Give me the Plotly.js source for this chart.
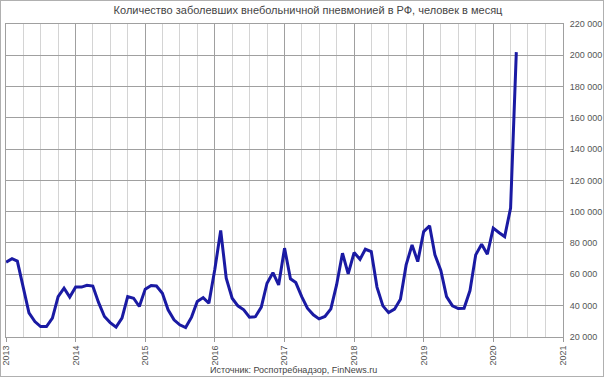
<!DOCTYPE html>
<html>
<head>
<meta charset="utf-8">
<script src="https://cdn.plot.ly/plotly-3.0.1.min.js"></script>
<style>
html,body{margin:0;padding:0;background:#fff;}
#chart{width:602px;height:375px;border:1px solid #b0b0b0;}
</style>
</head>
<body>
<div id="chart"></div>
<script>
// Monthly values (persons per month), Jan..Dec of each year
const v2013 = [67700, 70000, 68400, 51000, 35300, 29800, 26600, 26600, 32000, 45700, 51100, 45400];
const v2014 = [51800, 51800, 53000, 52500, 42000, 33000, 29100, 26200, 32000, 45700, 44700, 39400];
const v2015 = [50500, 52800, 52500, 47900, 37300, 30900, 27700, 25900, 32600, 42600, 45100, 41500];
const v2016 = [63000, 88000, 57500, 44700, 39800, 37300, 32600, 32900, 39000, 54300, 61000, 53200];
const v2017 = [76700, 57100, 54700, 45700, 38300, 34100, 31500, 33000, 37900, 53200, 73500, 60200];
const v2018 = [73900, 69600, 76000, 74500, 51800, 39800, 35500, 37700, 44100, 66000, 78800, 68100];
const v2019 = [87300, 91000, 72400, 62400, 45700, 39800, 38100, 38300, 49600, 72400, 79200, 72800];
const v2020 = [89500, 86600, 84100, 102400, 202000];
const years = [2013, 2014, 2015, 2016, 2017, 2018, 2019, 2020];
const yearValues = [v2013, v2014, v2015, v2016, v2017, v2018, v2019, v2020];
const yearTicks = ['2013','2014','2015','2016','2017','2018','2019','2020','2021'];
const yTicks = [20000, 40000, 60000, 80000, 100000, 120000, 140000, 160000, 180000, 200000, 220000];

const titleText = 'Количество заболевших внебольничной пневмонией в РФ, человек в месяц';
const sourceText = 'Источник: Роспотребнадзор, FinNews.ru';

const x = [], y = [];
years.forEach((yr, i) => {
  yearValues[i].forEach((v, m) => {
    x.push(yr + '-' + String(m + 1).padStart(2, '0') + '-01');
    y.push(v);
  });
});

const font = 'Arial, "Liberation Sans", sans-serif';

const trace = {
  x: x, y: y, type: 'scatter', mode: 'lines',
  line: {color: '#1a1aa3', width: 3},
  hoverinfo: 'skip'
};

const layout = {
  width: 602, height: 375,
  margin: {l: 5, r: 40, t: 23, b: 39},
  paper_bgcolor: '#fff', plot_bgcolor: '#fff',
  separators: ', ',
  showlegend: false,
  title: {text: titleText, font: {family: font, size: 11, color: '#444'}, x: 0.51, xanchor: 'center', y: 0.975, yanchor: 'middle'},
  xaxis: {
    type: 'date',
    range: ['2012-12-31 12:00', '2021-01-01'],
    tickvals: yearTicks.map(t => t + '-01-01'),
    ticktext: yearTicks,
    tickangle: -90,
    ticklabeloverflow: 'allow',
    tickfont: {family: font, size: 9, color: '#555'},
    ticks: 'outside', ticklen: 4, tickcolor: '#999',
    showgrid: true, gridcolor: '#a0a0a0', gridwidth: 1,
    minor: {dtick: 'M3', showgrid: true, gridcolor: '#d4d4d4', gridwidth: 1, ticks: ''},
    showline: true, linecolor: '#a0a0a0', mirror: true,
    zeroline: false, fixedrange: true
  },
  yaxis: {
    side: 'right',
    range: [19900, 220000],
    tickvals: yTicks,
    tickformat: ',d',
    ticklabeloverflow: 'allow',
    tickfont: {family: font, size: 9, color: '#555'},
    ticks: 'outside', ticklen: 4, tickcolor: 'rgba(0,0,0,0)',
    showgrid: true, gridcolor: '#a0a0a0', gridwidth: 1,
    showline: true, linecolor: '#a0a0a0', mirror: true,
    zeroline: false, fixedrange: true
  },
  annotations: [{
    text: sourceText, xref: 'paper', yref: 'paper',
    x: 0.517, y: -0.105, xanchor: 'center', yanchor: 'middle',
    showarrow: false, font: {family: font, size: 9, color: '#444'}
  }]
};

Plotly.newPlot('chart', [trace], layout, {displayModeBar: false, staticPlot: true});
</script>
</body>
</html>
